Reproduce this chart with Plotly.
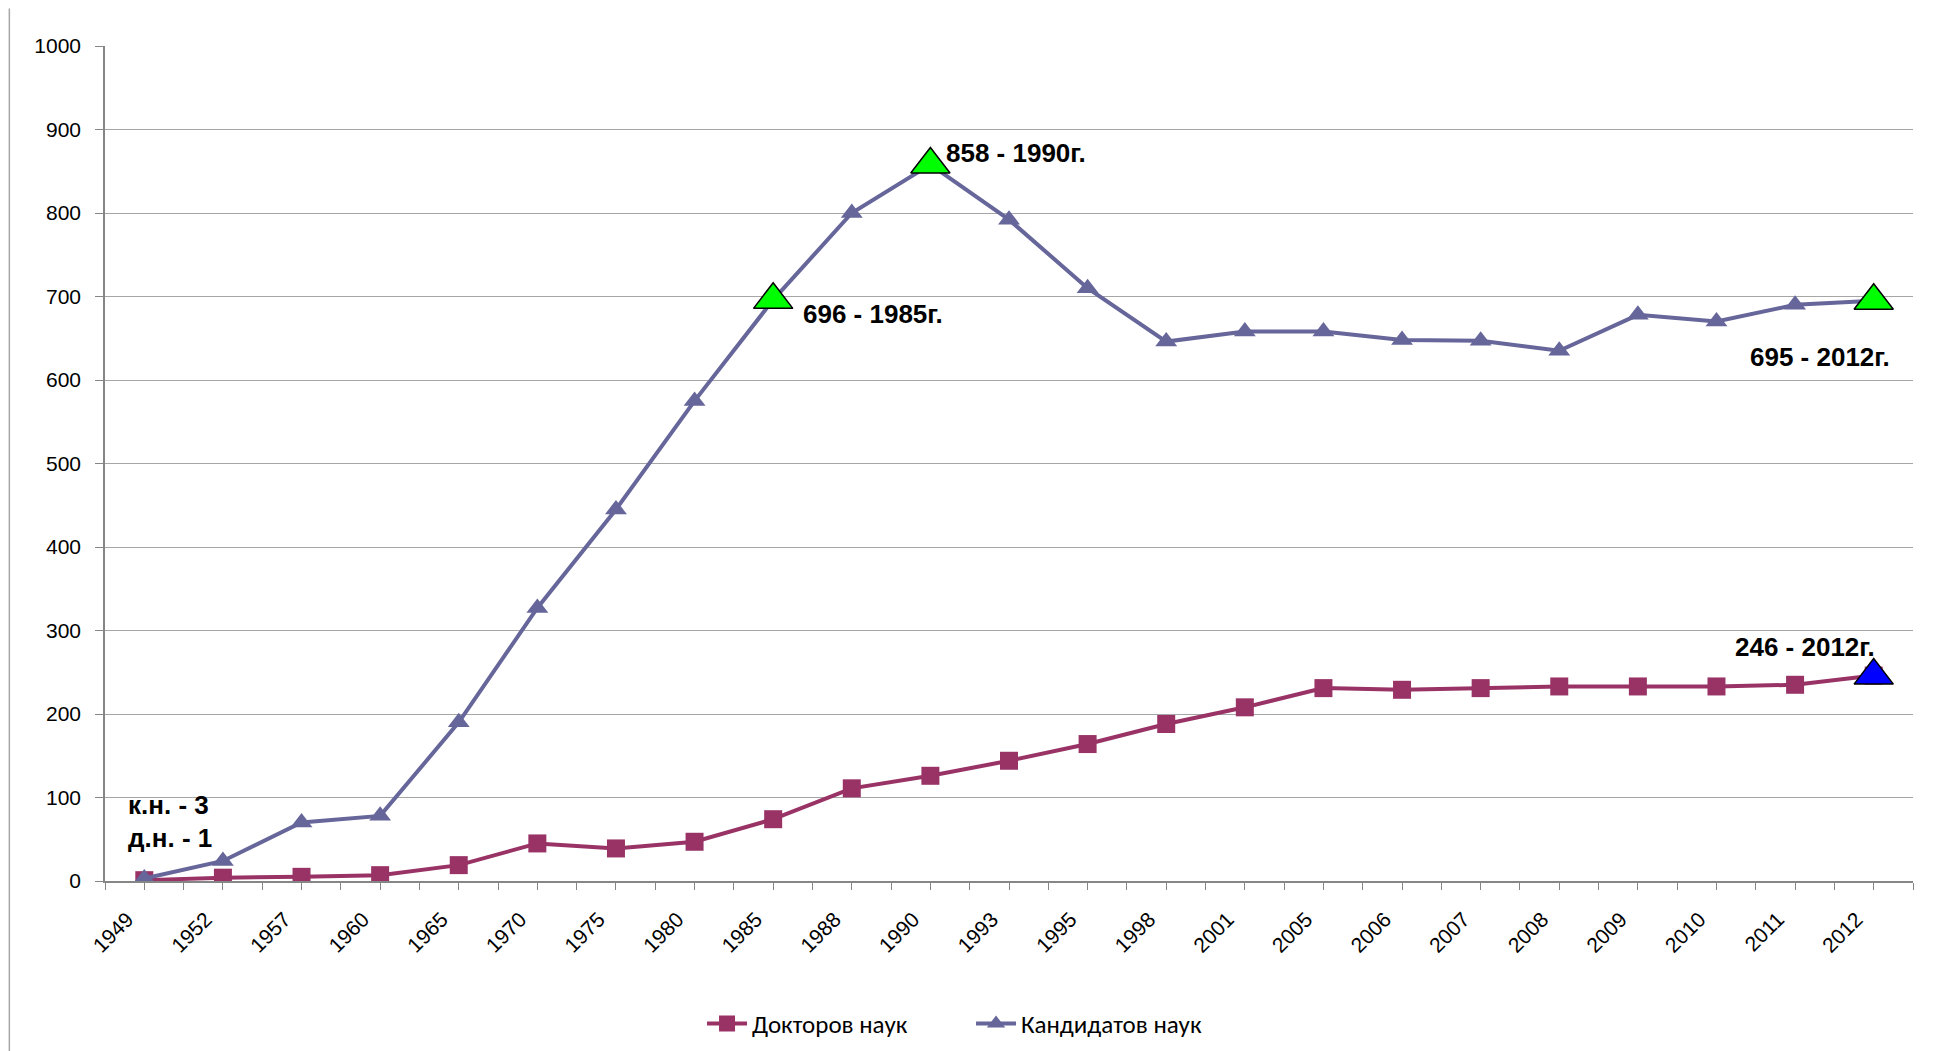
import plotly.graph_objects as go

years = ["1949", "1952", "1957", "1960", "1965", "1970", "1975", "1980", "1985", "1988",
         "1990", "1993", "1995", "1998", "2001", "2005", "2006", "2007", "2008", "2009",
         "2010", "2011", "2012"]
doctors = [1, 4, 5, 7, 19, 45, 39, 47, 74, 111, 126, 144, 164, 188, 208, 231, 229, 231,
           233, 233, 233, 235, 246]
candidates = [3, 24, 70, 78, 190, 327, 445, 575, 696, 800, 858, 792, 710, 646, 658, 658,
              648, 647, 635, 678, 670, 690, 695]

name_doc = "Докторов наук"
name_cand = "Кандидатов наук"

green_years = ["1985", "1990", "2012"]
blue_years = ["2012"]

C_DOC = "#993366"
C_CAND = "#66669A"
TICK_FONT = dict(family="'Liberation Sans', Arial, sans-serif", size=21, color="#000000")
LEG_FONT = dict(family="Carlito, Calibri, 'Open Sans', sans-serif", size=25, color="#000000")
LBL_FONT = dict(family="'Liberation Sans', Arial, sans-serif", size=26, color="#000000")

xpos = list(range(len(years)))          # category positions on a linear axis
bounds = [i - 0.5 for i in range(len(years) + 1)]

fig = go.Figure()
fig.add_trace(go.Scatter(x=xpos, y=doctors, name=name_doc, mode="lines+markers",
                         line=dict(color=C_DOC, width=4),
                         marker=dict(symbol="square", size=18, color=C_DOC)))
fig.add_trace(go.Scatter(x=xpos, y=candidates, name=name_cand, mode="lines+markers",
                         line=dict(color=C_CAND, width=4),
                         marker=dict(symbol="triangle-up", size=19, color=C_CAND)))

gi = [years.index(y) for y in green_years]
fig.add_trace(go.Scatter(x=gi, y=[candidates[i] for i in gi],
                         mode="markers", showlegend=False,
                         marker=dict(symbol="triangle-up", size=34, color="#00FF00",
                                     line=dict(color="#000000", width=1.5))))
bi = [years.index(y) for y in blue_years]
fig.add_trace(go.Scatter(x=bi, y=[doctors[i] for i in bi],
                         mode="markers", showlegend=False,
                         marker=dict(symbol="triangle-up", size=34, color="#0000FF",
                                     line=dict(color="#000000", width=1.5))))

def lbl(year, val, text, xanchor, xshift, yshift):
    fig.add_annotation(x=years.index(year), y=val, xref="x", yref="y",
                       text="<b>" + text + "</b>", showarrow=False,
                       xanchor=xanchor, yanchor="middle", xshift=xshift, yshift=yshift,
                       font=LBL_FONT)

i90 = years.index("1990"); i85 = years.index("1985"); i12 = years.index("2012"); i49 = years.index("1949")
lbl("1990", candidates[i90], f"{candidates[i90]} - 1990г.", "left", 14, 12)
lbl("1985", candidates[i85], f"{candidates[i85]} - 1985г.", "left", 28, -14)
lbl("2012", candidates[i12], f"{candidates[i12]} - 2012г.", "right", 18, -56)
lbl("2012", doctors[i12], f"{doctors[i12]} - 2012г.", "right", 3, 29)
lbl("1949", candidates[i49], f"к.н. - {candidates[i49]}", "left", -18, 74)
lbl("1949", candidates[i49], f"д.н. - {doctors[i49]}", "left", -18, 41)

# outer chart-area border (left and right edges)
for xp in (-0.0529, 1.0100):
    fig.add_shape(type="line", xref="paper", yref="paper", x0=xp, x1=xp, y0=-0.213, y1=1.045,
                  line=dict(color="#A6A6A6", width=1.5))

fig.update_layout(
    width=1936, height=1051,
    margin=dict(l=97, r=31, t=38, b=178),
    paper_bgcolor="white", plot_bgcolor="white",
    showlegend=True,
    legend=dict(orientation="h", x=0.479, xanchor="center", y=-0.171, yanchor="middle",
                font=LEG_FONT, itemwidth=40, entrywidth=214, entrywidthmode="pixels"),
    hovermode=False,
)
fig.update_xaxes(range=[-0.5, len(years) - 0.5], tickmode="array", tickvals=xpos, ticktext=years,
                 showline=True, linecolor="#868686", linewidth=1.5,
                 ticks="outside", ticklen=7, tickcolor="#868686",
                 minor=dict(tickmode="array", tickvals=bounds, ticks="outside", ticklen=7,
                            tickcolor="#868686", showgrid=False),
                 tickangle=-45, tickfont=TICK_FONT, showgrid=False, zeroline=False,
                 ticklabelstandoff=9, ticklabelshift=-17, automargin=False)
fig.update_yaxes(range=[0, 1000], dtick=100, showline=True, linecolor="#868686", linewidth=1.5,
                 ticks="outside", ticklen=8, tickcolor="#868686", tickfont=TICK_FONT,
                 showgrid=True, gridcolor="#A6A6A6", gridwidth=1, zeroline=False,
                 ticklabelstandoff=10, automargin=False)

fig.write_html("out.html")
